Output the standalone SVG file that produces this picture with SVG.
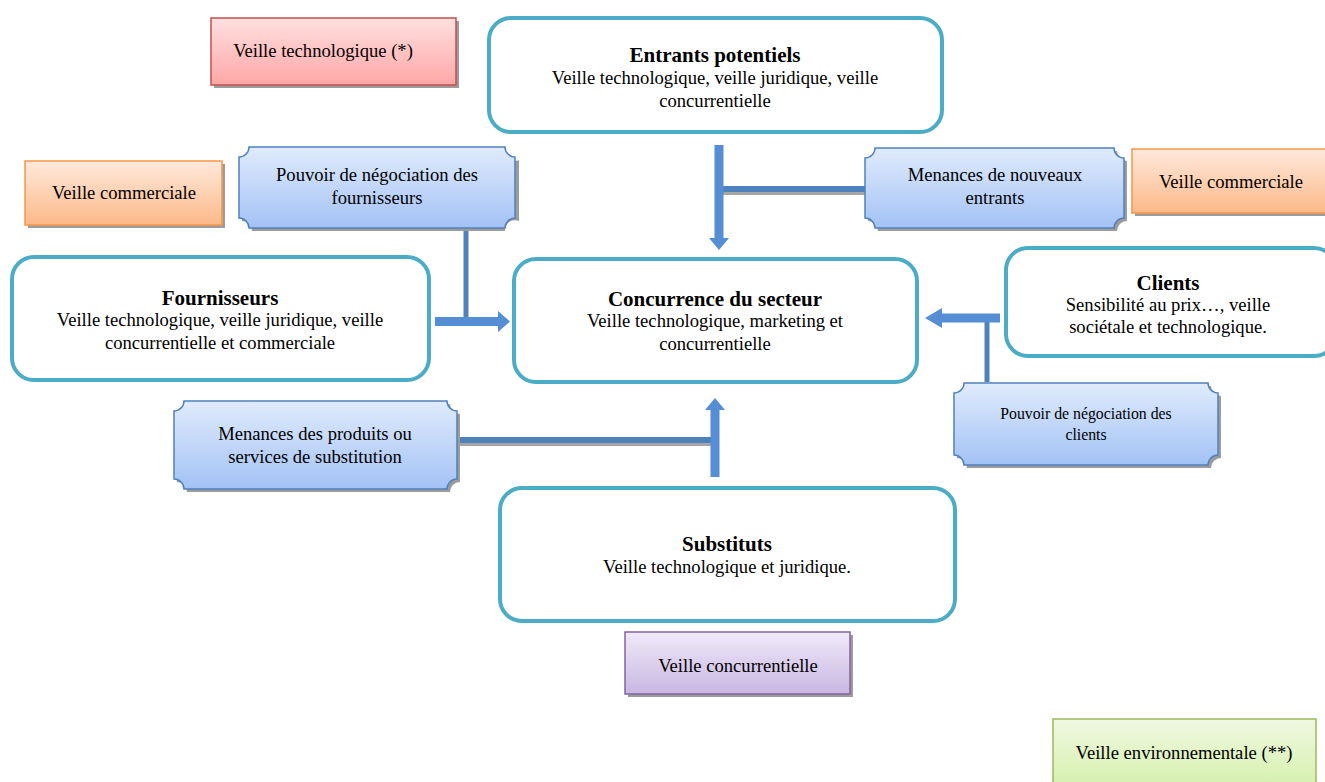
<svg xmlns="http://www.w3.org/2000/svg" width="1325" height="782" viewBox="0 0 1325 782">
  <style>
    text { font-family: "Liberation Serif", "Times New Roman", serif; fill: #000; text-anchor: middle; }
    .title { font-size: 21px; font-weight: bold; }
    .body { font-size: 18.6px; }
    .small { font-size: 15.8px; }
    .force { fill: #fff; stroke: #4bacc6; stroke-width: 4; }
    .plaque { fill: url(#gBlue); stroke: #4f81bd; stroke-width: 1.5; }
    .shadow { fill: #9c9c9c; }
    .arrow { fill: #558ed5; }
    .link { stroke: #4f81bd; stroke-width: 6; fill: none; }
    .linkShadow { stroke: #a6a6a6; stroke-width: 6; fill: none; }
  </style>
  <defs>
    <linearGradient id="gBlue" x1="0" y1="0" x2="0" y2="1">
      <stop offset="0" stop-color="#e0ebfc"/>
      <stop offset="1" stop-color="#a3c2f5"/>
    </linearGradient>
    <linearGradient id="gRed" x1="0" y1="0" x2="0" y2="1">
      <stop offset="0" stop-color="#ffe0e0"/>
      <stop offset="1" stop-color="#ffa6a6"/>
    </linearGradient>
    <linearGradient id="gOrange" x1="0" y1="0" x2="0" y2="1">
      <stop offset="0" stop-color="#ffe9dc"/>
      <stop offset="1" stop-color="#fcb989"/>
    </linearGradient>
    <linearGradient id="gPurple" x1="0" y1="0" x2="0" y2="1">
      <stop offset="0" stop-color="#efe9f7"/>
      <stop offset="1" stop-color="#c9b7e3"/>
    </linearGradient>
    <linearGradient id="gGreen" x1="0" y1="0" x2="0" y2="1">
      <stop offset="0" stop-color="#f0f8e2"/>
      <stop offset="1" stop-color="#d4f0aa"/>
    </linearGradient>
  </defs>

  <!-- Connectors -->
  <g id="connectors">
    <!-- entrants -> concurrence -->
    <line class="linkShadow" x1="721" y1="192" x2="866" y2="192"/>
    <line class="link" x1="719" y1="189" x2="866" y2="189"/>
    <path class="arrow" d="M714.5,145 H723.5 V238 H729 L719,250 L709,238 H714.5 Z"/>
    <!-- fournisseurs -> concurrence -->
    <line class="link" x1="466" y1="228" x2="466" y2="320" style="stroke-width:5"/>
    <path class="arrow" d="M435,317 H498 V311 L510,321.5 L498,332 V326 H435 Z"/>
    <!-- clients -> concurrence -->
    <line class="link" x1="987" y1="318" x2="987" y2="382" style="stroke-width:5"/>
    <path class="arrow" d="M1000,313.5 H942 V308 L925,318 L942,328 V322.5 H1000 Z"/>
    <!-- substituts -> concurrence -->
    <line class="linkShadow" x1="457" y1="443" x2="715" y2="443"/>
    <line class="link" x1="457" y1="440" x2="715" y2="440"/>
    <path class="arrow" d="M710.5,477 V410 H705 L715,398 L725,410 H719.5 V477 Z"/>
  </g>

  <!-- Five forces -->
  <g id="entrants">
    <rect class="force" x="489" y="18" width="453" height="114" rx="22"/>
    <text class="title" x="715" y="62">Entrants potentiels</text>
    <text class="body" x="715" y="84">Veille technologique, veille juridique, veille</text>
    <text class="body" x="715" y="107">concurrentielle</text>
  </g>
  <g id="fournisseurs">
    <rect class="force" x="12" y="257" width="417" height="123" rx="22"/>
    <text class="title" x="220" y="305">Fournisseurs</text>
    <text class="body" x="220" y="326">Veille technologique, veille juridique, veille</text>
    <text class="body" x="220" y="349">concurrentielle et commerciale</text>
  </g>
  <g id="concurrence">
    <rect class="force" x="514" y="259" width="403" height="123" rx="22"/>
    <text class="title" x="715" y="306">Concurrence du secteur</text>
    <text class="body" x="715" y="327">Veille technologique, marketing et</text>
    <text class="body" x="715" y="350">concurrentielle</text>
  </g>
  <g id="clients">
    <rect class="force" x="1006" y="248" width="330" height="108" rx="22"/>
    <text class="title" x="1168" y="290">Clients</text>
    <text class="body" x="1168" y="311">Sensibilité au prix…, veille</text>
    <text class="body" x="1168" y="333">sociétale et technologique.</text>
  </g>
  <g id="substituts">
    <rect class="force" x="500" y="488" width="455" height="133" rx="22"/>
    <text class="title" x="727" y="551">Substituts</text>
    <text class="body" x="727" y="573">Veille technologique et juridique.</text>
  </g>

  <!-- Forces acting between the actors -->
  <g id="pouvoir-fournisseurs">
    <path class="shadow" d="M252,150 H505 A10,10 0 0 0 519,160 V221 A10,10 0 0 0 505,231 H252 A10,10 0 0 0 242,221 V160 A10,10 0 0 0 252,150 Z"/>
    <path class="plaque" d="M249,147 H505 A10,10 0 0 0 515,157 V218 A10,10 0 0 0 505,228 H249 A10,10 0 0 0 239,218 V157 A10,10 0 0 0 249,147 Z"/>
    <text class="body" x="377" y="181">Pouvoir de négociation des</text>
    <text class="body" x="377" y="204">fournisseurs</text>
  </g>
  <g id="menaces-entrants">
    <path class="shadow" d="M878,151 H1117 A10,10 0 0 0 1127,161 V221 A10,10 0 0 0 1117,231 H878 A10,10 0 0 0 868,221 V161 A10,10 0 0 0 878,151 Z"/>
    <path class="plaque" d="M875,148 H1114 A10,10 0 0 0 1124,158 V218 A10,10 0 0 0 1114,228 H875 A10,10 0 0 0 865,218 V158 A10,10 0 0 0 875,148 Z"/>
    <text class="body" x="995" y="181">Menances de nouveaux</text>
    <text class="body" x="995" y="204">entrants</text>
  </g>
  <g id="pouvoir-clients">
    <path class="shadow" d="M967,386 H1211 A10,10 0 0 0 1221,396 V458 A10,10 0 0 0 1211,468 H967 A10,10 0 0 0 957,458 V396 A10,10 0 0 0 967,386 Z"/>
    <path class="plaque" d="M964,383 H1208 A10,10 0 0 0 1218,393 V455 A10,10 0 0 0 1208,465 H964 A10,10 0 0 0 954,455 V393 A10,10 0 0 0 964,383 Z"/>
    <text class="small" x="1086" y="419">Pouvoir de négociation des</text>
    <text class="small" x="1086" y="440">clients</text>
  </g>
  <g id="menaces-substitution">
    <path class="shadow" d="M187,404 H450 A10,10 0 0 0 460,414 V482 A10,10 0 0 0 450,492 H187 A10,10 0 0 0 177,482 V414 A10,10 0 0 0 187,404 Z"/>
    <path class="plaque" d="M184,401 H447 A10,10 0 0 0 457,411 V479 A10,10 0 0 0 447,489 H184 A10,10 0 0 0 174,479 V411 A10,10 0 0 0 184,401 Z"/>
    <text class="body" x="315" y="440">Menances des produits ou</text>
    <text class="body" x="315" y="463">services de substitution</text>
  </g>

  <!-- Types of monitoring -->
  <g id="veille-technologique">
    <rect class="shadow" x="214" y="21" width="245" height="67"/>
    <rect x="211" y="18" width="245" height="67" fill="url(#gRed)" stroke="#c0504d" stroke-width="1.5"/>
    <text class="body" x="323" y="57">Veille technologique (*)</text>
  </g>
  <g id="veille-commerciale-gauche">
    <rect class="shadow" x="28" y="164" width="197" height="64"/>
    <rect x="25" y="161" width="197" height="64" fill="url(#gOrange)" stroke="#f79646" stroke-width="1.5"/>
    <text class="body" x="124" y="199">Veille commerciale</text>
  </g>
  <g id="veille-commerciale-droite">
    <rect class="shadow" x="1135" y="152" width="195" height="64"/>
    <rect x="1132" y="149" width="195" height="64" fill="url(#gOrange)" stroke="#f79646" stroke-width="1.5"/>
    <text class="body" x="1231" y="188">Veille commerciale</text>
  </g>
  <g id="veille-concurrentielle">
    <rect class="shadow" x="628" y="635" width="225" height="62"/>
    <rect x="625" y="632" width="225" height="62" fill="url(#gPurple)" stroke="#8064a2" stroke-width="1.5"/>
    <text class="body" x="738" y="672">Veille concurrentielle</text>
  </g>
  <g id="veille-environnementale">
    <rect x="1053" y="719" width="263" height="70" fill="url(#gGreen)" stroke="#9bbb59" stroke-width="1.5"/>
    <text class="body" x="1184" y="759">Veille environnementale (**)</text>
  </g>
</svg>
